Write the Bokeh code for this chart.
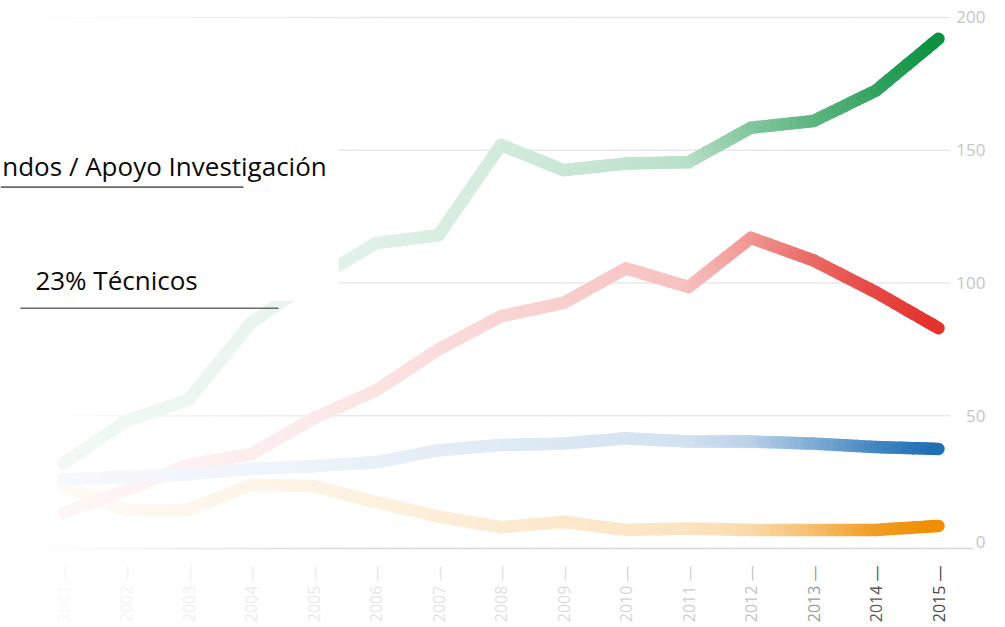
import numpy as np
from bokeh.plotting import figure
from bokeh.models import Range1d
from bokeh.core.properties import value
from bokeh.embed import file_html
from bokeh.resources import INLINE

# ---------------- data ----------------
years = [2001, 2002, 2003, 2004, 2005, 2006, 2007, 2008, 2009, 2010, 2011, 2012, 2013, 2014, 2015]
apoyo_investigacion = [32, 48, 56, 85, 101, 115, 118, 152, 142.5, 145, 145.5, 158.5, 161, 172.5, 192]
tecnicos = [13.5, 22, 31.5, 35.5, 49, 59.5, 75, 87.5, 92.5, 105.5, 98.5, 117, 108.5, 96.5, 83]
serie_azul = [26, 27, 28, 30, 31, 32.5, 37, 39, 39.5, 41.5, 40.3, 40.3, 39.5, 38.2, 37.5]
serie_naranja = [23.5, 14.5, 14.5, 24, 23.5, 17.5, 12, 8, 10, 7, 7.5, 7, 7, 7, 8.5]
y_ticks = [0, 50, 100, 150, 200]
y_tick_labels = ["0", "50", "100", "150", "200"]
x_tick_labels = ["2001 —", "2002 —", "2003 —", "2004 —", "2005 —", "2006 —", "2007 —", "2008 —",
                 "2009 —", "2010 —", "2011 —", "2012 —", "2013 —", "2014 —", "2015 —"]
annotation_texts = ["ndos / Apoyo Investigación", "23% Técnicos"]

# ---------------- style ----------------
FONT = value("Open Sans")
x_label_colors = ["#f8f8f8", "#f4f4f4", "#f0f0f0", "#ececec", "#e9e9e9", "#e6e6e6", "#e3e3e3", "#e0e0e0",
                  "#dcdcdc", "#d5d5d5", "#cfcfcf", "#c4c4c4", "#9c9c9c", "#5a5a5a", "#484848"]

series = [
    # values, full colour, fade profile (years, strength)
    (serie_naranja, (239, 141, 0), [2001, 2005, 2008, 2011, 2012, 2013, 2014, 2015],
     [0.04, 0.10, 0.17, 0.24, 0.32, 0.55, 0.85, 1.0]),
    (tecnicos, (227, 49, 43), [2001, 2005, 2008, 2011, 2012, 2013, 2014, 2015],
     [0.04, 0.10, 0.20, 0.30, 0.50, 0.72, 0.88, 1.0]),
    (serie_azul, (30, 110, 181), [2001, 2005, 2008, 2011, 2012, 2013, 2014, 2015],
     [0.04, 0.08, 0.14, 0.20, 0.30, 0.55, 0.82, 1.0]),
    (apoyo_investigacion, (10, 144, 64), [2001, 2005, 2008, 2011, 2012, 2013, 2014, 2015],
     [0.05, 0.10, 0.18, 0.28, 0.50, 0.65, 0.82, 1.0]),
]


def blend(rgb, t, base=(255, 255, 255)):
    r, g, b = (int(round(base[i] + (rgb[i] - base[i]) * t)) for i in range(3))
    return "#%02x%02x%02x" % (r, g, b)


def gradient_path(p, xs, ys, rgb, prof_x, prof_t, width, n=10, cap="round"):
    x0, y0, x1, y1, cols = [], [], [], [], []
    for i in range(len(xs) - 1):
        for k in range(n):
            a, b = k / n, (k + 1) / n
            xa = xs[i] + (xs[i + 1] - xs[i]) * a
            xb = xs[i] + (xs[i + 1] - xs[i]) * b
            ya = ys[i] + (ys[i + 1] - ys[i]) * a
            yb = ys[i] + (ys[i + 1] - ys[i]) * b
            x0.append(xa); y0.append(ya); x1.append(xb); y1.append(yb)
            cols.append(blend(rgb, float(np.interp((xa + xb) / 2, prof_x, prof_t))))
    p.segment(x0=x0, y0=y0, x1=x1, y1=y1, line_color=cols, line_width=width, line_cap=cap)


X0, X1 = 1999.992, 2016.072
p = figure(width=1005, height=627,
           x_range=Range1d(X0, X1), y_range=Range1d(-29.76, 206.4),
           x_axis_type=None, y_axis_type=None,
           output_backend="svg", toolbar_location=None,
           min_border=0, min_border_left=0, min_border_right=0,
           min_border_top=0, min_border_bottom=0)
p.grid.visible = False
p.outline_line_color = None
p.background_fill_color = "white"
p.border_fill_color = "white"

# gridlines (fading in from the left)
grid_prof_x = [2000.3, 2003.5, 2006.0]
for v in y_ticks:
    end = 2015.55 if v == 0 else 2015.19
    full = (214, 214, 214) if v == 0 else (232, 232, 232)
    gradient_path(p, [X0, end], [v, v], full, grid_prof_x, [0.0, 0.6, 1.0],
                  width=1.5, n=40, cap="butt")

# data lines
for vals, rgb, px, pt in series:
    gradient_path(p, years, vals, rgb, px, pt, width=12.5, n=10)

# white panel behind the annotations
p.quad(left=[X0], right=[2005.4], bottom=[93.4], top=[153.7],
       fill_color="white", line_color=None)

# annotation underlines
p.segment(x0=[X0, 2000.31], y0=[136.1, 90.5], x1=[2003.88, 2004.44], y1=[136.1, 90.5],
          line_color="#6a6a6a", line_width=1.6)

# annotation texts
p.text(x=[2000.02, 2000.55], y=[144.0, 101.0], text=annotation_texts,
       text_font=FONT, text_font_size="26px", text_color="#0a0a0a",
       text_align="left", text_baseline="alphabetic")

# y tick labels (right side)
p.text(x=[2015.752] * len(y_ticks), y=[t + (2.6 if t == 0 else 0) for t in y_ticks],
       text=y_tick_labels, text_font=FONT, text_font_size="17px", text_color="#c6c6c6",
       text_align="right", text_baseline="middle")

# x tick labels (rotated, with dash acting as tick)
p.text(x=years, y=[-6.4] * len(years), text=x_tick_labels, angle=np.pi / 2,
       text_font=FONT, text_font_size="16px", text_color=x_label_colors,
       text_align="right", text_baseline="middle")

open("out.html", "w").write(file_html(p, INLINE))
